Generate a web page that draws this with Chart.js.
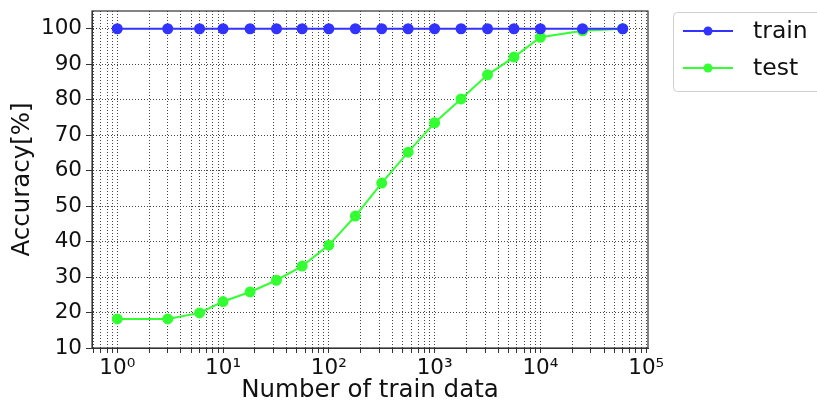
<!DOCTYPE html>
<html>
<head>
<meta charset="utf-8">
<script src="https://cdn.jsdelivr.net/npm/chart.js@4.4.1/dist/chart.umd.min.js"></script>
<style>
  html, body { margin: 0; padding: 0; background: #ffffff; }
  #wrap { width: 817px; height: 403px; position: relative; }
</style>
</head>
<body>
<div id="wrap"><canvas id="c" width="817" height="403"></canvas></div>
<script>
// ---- data ----
const trainSizes = [1, 3, 6, 10, 18, 32, 56, 100, 178, 316, 562, 1000, 1778, 3162, 5623, 10000, 25000, 60000];
const trainAcc   = [100, 100, 100, 100, 100, 100, 100, 100, 100, 100, 100, 100, 100, 100, 100, 100, 100, 100];
const testAcc    = [18.2, 18.2, 19.9, 23.1, 25.8, 29.1, 33.1, 39.0, 47.2, 56.5, 65.2, 73.5, 80.2, 87.0, 92.0, 97.6, 99.4, 100];
const seriesNames = ['train', 'test'];
const seriesColors = ['#3333ff', '#33ff33'];
const yTickValues = [10, 20, 30, 40, 50, 60, 70, 80, 90, 100];
const xMajorExponents = [-1, 0, 1, 2, 3, 4, 5];
const xLabel = 'Number of train data';
const yLabel = 'Accuracy[%]';

const SUP = {'-':'⁻','0':'⁰','1':'¹','2':'²','3':'³','4':'⁴','5':'⁵','6':'⁶','7':'⁷','8':'⁸','9':'⁹'};
function supStr(n) { return String(n).split('').map(c => SUP[c]).join(''); }

const FONT = "'DejaVu Sans', 'Liberation Sans', sans-serif";

function makeLegendIcon(color) {
  const cv = document.createElement('canvas');
  cv.width = 52; cv.height = 12;
  const g = cv.getContext('2d');
  g.strokeStyle = color; g.lineWidth = 2;
  g.beginPath(); g.moveTo(1, 6); g.lineTo(51, 6); g.stroke();
  g.fillStyle = color;
  g.beginPath(); g.arc(26, 6, 4.5, 0, Math.PI * 2); g.fill();
  return cv;
}

const framePlugin = {
  id: 'frame',
  afterDraw(chart) {
    const { ctx, chartArea: a } = chart;
    ctx.save();
    ctx.strokeStyle = '#333333';
    ctx.lineWidth = 1.2;
    ctx.strokeRect(a.left, a.top, a.right - a.left, a.bottom - a.top);
    ctx.restore();
  }
};

const legendPlugin = {
  id: 'boxLegend',
  afterDraw(chart) {
    const { ctx, chartArea: a } = chart;
    const x0 = a.right + 25, y0 = a.top + 1;
    const w = 160, h = 79;
    ctx.save();
    ctx.fillStyle = '#ffffff';
    ctx.strokeStyle = '#d0d0d0';
    ctx.lineWidth = 1;
    ctx.beginPath();
    ctx.roundRect(x0 + 0.5, y0 + 0.5, w, h, 4);
    ctx.fill(); ctx.stroke();
    ctx.font = '23.5px ' + FONT;
    ctx.textBaseline = 'middle';
    chart.data.datasets.forEach((ds, i) => {
      const cy = y0 + 19 + i * 37;
      ctx.drawImage(makeLegendIcon(ds.borderColor), x0 + 9, cy - 6);
      ctx.fillStyle = '#111111';
      ctx.fillText(ds.label, x0 + 80, cy + 1);
    });
    ctx.restore();
  }
};

function toPoints(xs, ys) { return xs.map((x, i) => ({ x: x, y: ys[i] })); }

new Chart(document.getElementById('c'), {
  type: 'line',
  data: {
    datasets: [
      { label: seriesNames[0], data: toPoints(trainSizes, trainAcc), borderColor: seriesColors[0], backgroundColor: seriesColors[0],
        borderWidth: 2, pointRadius: 4.5, pointHoverRadius: 4.5, tension: 0, fill: false },
      { label: seriesNames[1], data: toPoints(trainSizes, testAcc), borderColor: seriesColors[1], backgroundColor: seriesColors[1],
        borderWidth: 2, pointRadius: 4.5, pointHoverRadius: 4.5, tension: 0, fill: false }
    ]
  },
  options: {
    responsive: false,
    animation: false,
    layout: { padding: { left: 0, right: 169, top: 11, bottom: 0 } },
    plugins: { legend: { display: false }, tooltip: { enabled: false } },
    scales: {
      x: {
        type: 'logarithmic',
        min: 0.577, max: 104000,
        afterBuildTicks(scale) {
          const t = [];
          xMajorExponents.forEach(k => {
            for (let m = 1; m <= 9; m++) {
              const v = m * Math.pow(10, k);
              if (v >= scale.min && v <= scale.max) t.push({ value: v, major: m === 1 });
            }
          });
          scale.ticks = t;
        },
        afterFit(scale) { scale.height = 55; scale.paddingLeft = 0; scale.paddingRight = 0; },
        ticks: {
          autoSkip: false, maxRotation: 0, padding: 3,
          color: '#111111',
          font: { family: FONT, size: 21.5 },
          callback(v) {
            const e = Math.log10(v);
            return Math.abs(e - Math.round(e)) < 1e-9 ? '10' + supStr(Math.round(e)) : '';
          }
        },
        grid: {
          color: 'rgba(50,50,50,0.9)', lineWidth: 1, tickLength: 5,
          tickColor: '#333333'
        },
        border: { display: true, color: '#333333', dash: [1, 2], width: 1 },
        title: { display: true, text: xLabel, color: '#111111',
                 font: { family: FONT, size: 24.5, lineHeight: 1.0 }, padding: { top: 0, bottom: 0 } }
      },
      y: {
        type: 'linear',
        min: 10, max: 105,
        afterBuildTicks(scale) { scale.ticks = yTickValues.map(v => ({ value: v })); },
        afterFit(scale) { scale.width = 92; scale.paddingTop = 0; scale.paddingBottom = 0; },
        ticks: { padding: 4, color: '#111111', font: { family: FONT, size: 21.5 } },
        grid: { color: 'rgba(50,50,50,0.9)', lineWidth: 1, tickLength: 6, tickColor: '#333333' },
        border: { display: true, color: '#333333', dash: [1, 2] },
        title: { display: true, text: yLabel, color: '#111111',
                 font: { family: FONT, size: 24.5, lineHeight: 1.2 }, padding: { top: 8, bottom: 0 } }
      }
    }
  },
  plugins: [framePlugin, legendPlugin]
});
</script>
</body>
</html>
